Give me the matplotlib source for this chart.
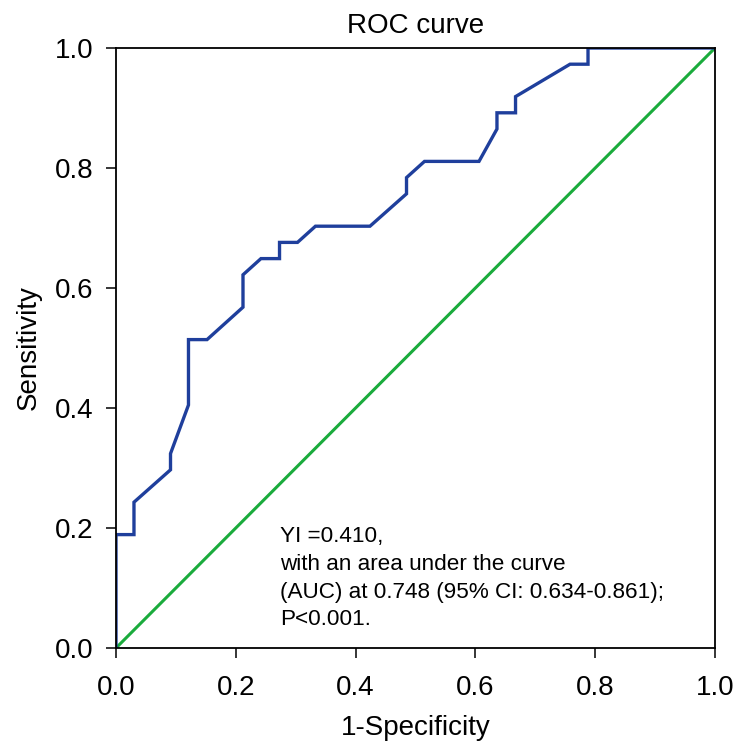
import matplotlib
matplotlib.use("Agg")
import matplotlib.pyplot as plt

plt.rcParams['font.family'] = ['Liberation Sans', 'DejaVu Sans']

fpr = [0.0, 0.0, 0.030, 0.030, 0.091, 0.091, 0.121, 0.121, 0.152, 0.212, 0.212,
       0.242, 0.273, 0.273, 0.303, 0.333, 0.424, 0.485, 0.485, 0.515, 0.606,
       0.636, 0.636, 0.667, 0.667, 0.758, 0.788, 0.788, 1.0]
tpr = [0.0, 0.189, 0.189, 0.243, 0.297, 0.324, 0.405, 0.514, 0.514, 0.568, 0.622,
       0.649, 0.649, 0.676, 0.676, 0.703, 0.703, 0.757, 0.784, 0.811, 0.811,
       0.865, 0.892, 0.892, 0.919, 0.973, 0.973, 1.0, 1.0]
ref_x = [0.0, 1.0]
ref_y = [0.0, 1.0]
ticks = [0.0, 0.2, 0.4, 0.6, 0.8, 1.0]
tick_labels = ["0.0", "0.2", "0.4", "0.6", "0.8", "1.0"]
annotation = ("YI =0.410,\nwith an area under the curve\n"
              "(AUC) at 0.748 (95% CI: 0.634-0.861);\nP<0.001.")

fig = plt.figure(figsize=(7.35, 7.51), dpi=100)
ax = fig.add_axes([116/735, 1-648/751, 599/735, 600/751])

ax.plot(ref_x, ref_y, color='#1aab3c', lw=2.2, zorder=2)
ax.plot(fpr, tpr, color='#1f3f9c', lw=2.4, zorder=3, solid_joinstyle='miter')

ax.set_xlim(0, 1)
ax.set_ylim(0, 1)
ax.set_xticks(ticks)
ax.set_xticklabels(tick_labels)
ax.set_yticks(ticks)
ax.set_yticklabels(tick_labels)
ax.tick_params(direction='out', length=7.5, width=1.1, labelsize=20, color='black')
ax.tick_params(axis='x', pad=12)
ax.tick_params(axis='y', pad=9)
for s in ax.spines.values():
    s.set_linewidth(1.3)
    s.set_color('black')
    s.set_zorder(5)

ax.set_xlabel("1-Specificity", fontsize=20, labelpad=10)
ax.set_ylabel("Sensitivity", fontsize=20, labelpad=9)
ax.set_title("ROC curve", fontsize=20, pad=11)

ax.text(0.274, 0.203, annotation, transform=ax.transAxes, fontsize=16.2,
        ha='left', va='top', linespacing=1.42)

fig.savefig("out.png", dpi=100)
